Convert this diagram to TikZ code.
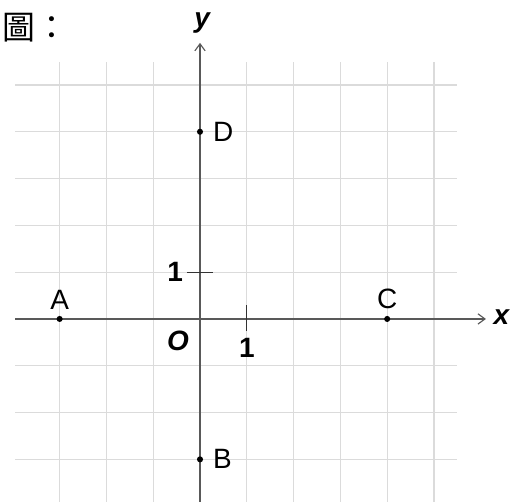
\documentclass[tikz,border=0pt]{standalone}
\usepackage{fontspec}
\setmainfont{Liberation Sans}
\newfontfamily\cjk{Noto Sans CJK TC}
\usetikzlibrary{arrows.meta,positioning}

\begin{document}
\begin{tikzpicture}[>={Straight Barb[length=1.5mm,width=2.2mm]},font=\fontsize{17}{20}\selectfont,
  gridline/.style={draw=black!14,line width=0.8pt},
  axis/.style={draw=black!65,line width=0.7pt},
  tick/.style={draw=black!80,line width=0.7pt},
  pt/.style={circle,fill=black,inner sep=0pt,minimum size=0.13cm},
  lbl/.style={inner sep=0pt}]
\useasboundingbox (-4.274,-3.910) rectangle (6.667,6.816);
% grid
\draw[gridline] (-3.95,5) -- (5.5,5);
\draw[gridline] (-3.95,4) -- (5.5,4);
\draw[gridline] (-3.95,3) -- (5.5,3);
\draw[gridline] (-3.95,2) -- (5.5,2);
\draw[gridline] (-3.95,1) -- (5.5,1);
\draw[gridline] (-3.95,-1) -- (5.5,-1);
\draw[gridline] (-3.95,-2) -- (5.5,-2);
\draw[gridline] (-3.95,-3) -- (5.5,-3);
\draw[gridline] (-3,-3.91) -- (-3,5.49);
\draw[gridline] (-2,-3.91) -- (-2,5.49);
\draw[gridline] (-1,-3.91) -- (-1,5.49);
\draw[gridline] (1,-3.91) -- (1,5.49);
\draw[gridline] (2,-3.91) -- (2,5.49);
\draw[gridline] (3,-3.91) -- (3,5.49);
\draw[gridline] (4,-3.91) -- (4,5.49);
\draw[gridline] (5,-3.91) -- (5,5.49);
% axes
\coordinate (xs) at (-3.95,0);
\coordinate (xe) at (6.11,0);
\coordinate (ys) at (0,-3.91);
\coordinate (ye) at (0,5.9);
\draw[axis,->] (xs) -- (xe);
\draw[axis,->] (ys) -- (ye);
\node[lbl] (xlbl) at (6.45,0.04) {\textbf{\textit{x}}};
\node[lbl] (ylbl) at (0.06,6.32) {\textbf{\textit{y}}};
\node[lbl] (orig) at (-0.47,-0.47) {\textbf{\textit{O}}};
% unit ticks
\coordinate (ty1) at (-0.28,1);
\coordinate (ty2) at (0.28,1);
\draw[tick] (ty1) -- (ty2);
\node[lbl,left=0.08cm of ty1] (one y) {\textbf{1}};
\coordinate (tx1) at (1,-0.26);
\coordinate (tx2) at (1,0.30);
\draw[tick] (tx1) -- (tx2);
\node[lbl,below=0.15cm of tx1] (one x) {\textbf{1}};
% points
\node[pt] (A) at (-3,0) {};
\node[lbl,above=0.13cm of A] (lblA) {A};
\node[pt] (C) at (4,0) {};
\node[lbl,above=0.13cm of C] (lblC) {C};
\node[pt] (D) at (0,4) {};
\node[lbl,right=0.2cm of D] (lblD) {D};
\node[pt] (B) at (0,-3) {};
\node[lbl,right=0.2cm of B] (lblB) {B};
\node[lbl,anchor=west,font=\fontsize{20}{24}\selectfont] (title) at (-4.22,6.23) {\cjk 圖：};
\end{tikzpicture}
\end{document}
